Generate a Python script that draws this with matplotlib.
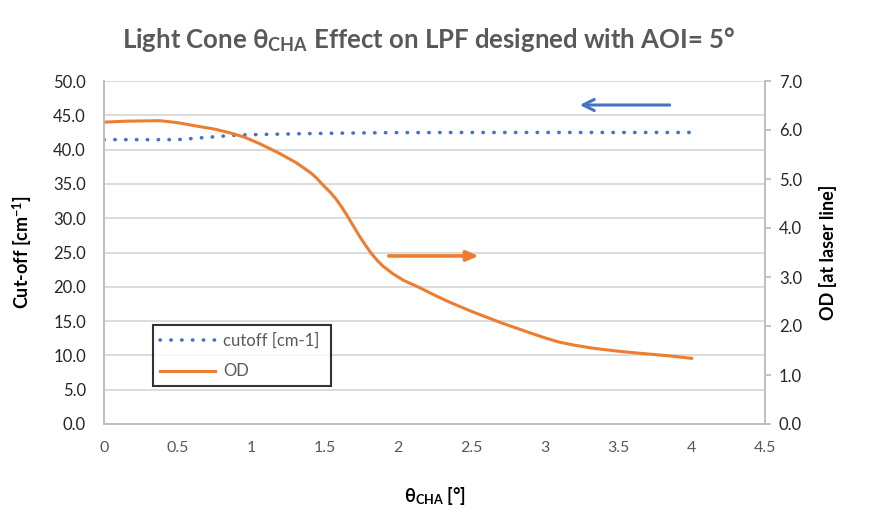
import numpy as np
import matplotlib.pyplot as plt

plt.rcParams['font.family'] = ['Lato', 'DejaVu Sans']
plt.rcParams['mathtext.fontset'] = 'custom'
plt.rcParams['mathtext.rm'] = 'Lato'
plt.rcParams['mathtext.bf'] = 'Lato:bold'
plt.rcParams['mathtext.it'] = 'Lato:italic'

# cut-off [cm-1] vs theta_CHA (left axis)
theta_cut = [0, 0.25, 0.5, 0.65, 0.8, 0.9, 1.05, 1.3, 1.6, 2.0, 2.5, 3.0, 3.5, 4.0]
cutoff = [41.45, 41.45, 41.45, 41.7, 41.95, 42.1, 42.2, 42.3, 42.4, 42.48, 42.5, 42.5, 42.5, 42.5]

# OD at laser line vs theta_CHA (right axis)
theta_od = [0, 0.15, 0.38, 0.5, 0.65, 0.75, 0.86, 0.96, 1.06, 1.19, 1.31, 1.41, 1.45, 1.49,
            1.54, 1.58, 1.62, 1.66, 1.70, 1.74, 1.78, 1.82, 1.86, 1.90, 1.97, 2.04, 2.15,
            2.25, 2.35, 2.5, 2.7, 2.9, 3.0, 3.1, 3.2, 3.3, 3.4, 3.55, 3.7, 3.85, 4.0]
od = [6.16, 6.18, 6.19, 6.15, 6.07, 6.02, 5.94, 5.85, 5.72, 5.53, 5.33, 5.12, 5.01, 4.88,
      4.73, 4.59, 4.42, 4.23, 4.03, 3.83, 3.65, 3.48, 3.34, 3.22, 3.06, 2.93, 2.78,
      2.63, 2.49, 2.3, 2.07, 1.86, 1.76, 1.67, 1.61, 1.56, 1.52, 1.47, 1.43, 1.39, 1.34]

xticks = [0, 0.5, 1, 1.5, 2, 2.5, 3, 3.5, 4, 4.5]
xticklabels = ['0', '0.5', '1', '1.5', '2', '2.5', '3', '3.5', '4', '4.5']

blue = '#4472C4'
orange = '#ED7D31'
gray_txt = '#595959'
axis_col = '#BFBFBF'
grid_col = '#D9D9D9'

fig = plt.figure(figsize=(8.79, 5.27), dpi=100)
ax = fig.add_axes([104/879, 1-424/527, (765-104)/879, (424-81)/527])
ax2 = ax.twinx()

l1, = ax.plot(theta_cut, cutoff, color=blue, lw=2.6, linestyle=(0, (0.1, 2.9)),
              dash_capstyle='round', label='cutoff [cm-1]')
l2, = ax2.plot(theta_od, od, color=orange, lw=2.2, label='OD', solid_joinstyle='round')

ax.set_xlim(0, 4.5)
ax.set_ylim(0, 50)
ax2.set_ylim(0, 7)
ax.set_xticks(xticks)
ax.set_xticklabels(xticklabels)
ax.set_yticks(np.arange(0, 50.1, 5))
ax.set_yticklabels(['%.1f' % v for v in np.arange(0, 50.1, 5)])
ax2.set_yticks(np.arange(0, 7.1, 1))
ax2.set_yticklabels(['%.1f' % v for v in np.arange(0, 7.1, 1)])

ax.grid(True, axis='y', color=grid_col, lw=1.3)
ax.set_axisbelow(True)

for a in (ax, ax2):
    a.spines['top'].set_visible(False)
    for s in ('left', 'right', 'bottom'):
        a.spines[s].set_color(axis_col)
        a.spines[s].set_linewidth(1.3)

ax.tick_params(axis='x', length=0, pad=12, labelsize=11.5, labelcolor=gray_txt)
ax.tick_params(axis='y', length=0, pad=13, labelsize=12, labelcolor='#262626')
ax2.tick_params(axis='y', length=4, width=1.3, color=axis_col, pad=6, labelsize=12,
                labelcolor='#262626')

ax.set_xlabel(r'$\mathbf{\theta}_{\mathbf{CHA}}$ [°]', fontsize=13, fontweight='bold', labelpad=22)
ax.set_ylabel(r'Cut-off [cm$^{\mathbf{-1}}$]', fontsize=13, fontweight='bold', labelpad=14)
ax2.set_ylabel('OD [at laser line]', fontsize=13, fontweight='bold', labelpad=12)

fig.text(0.487, 0.925, r'Light Cone $\mathbf{\theta}_{\mathbf{CHA}}$ Effect on LPF designed with AOI= 5°',
         ha='center', va='center', fontsize=18.5, fontweight='bold', color=gray_txt)

# direction arrows
ax.annotate('', xy=(3.22, 46.5), xytext=(3.87, 46.5),
            arrowprops=dict(arrowstyle='->,head_length=0.8,head_width=0.4', color=blue, lw=2.2))
ax.annotate('', xy=(2.57, 24.5), xytext=(1.92, 24.5),
            arrowprops=dict(arrowstyle='-|>,head_length=0.7,head_width=0.3', color=orange, lw=2.6))

leg = ax.legend(handles=[l1, l2], loc='lower left', bbox_to_anchor=(49/661, 38/343, 178/661, 70/343),
                mode='expand', frameon=True, fancybox=False, fontsize=12, handlelength=3.3,
                labelspacing=0.9, borderaxespad=0, handletextpad=0.5)
leg.get_frame().set_edgecolor('black')
leg.get_frame().set_linewidth(1.5)
for t in leg.get_texts():
    t.set_color(gray_txt)

fig.savefig('out.png', dpi=100)
